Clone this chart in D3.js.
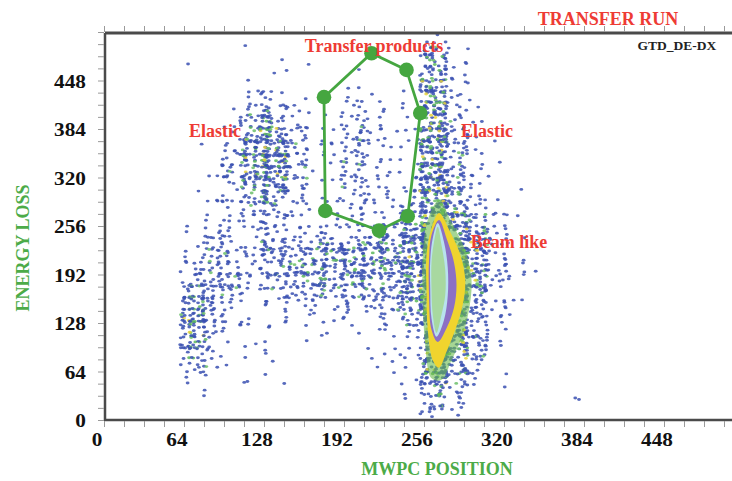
<!DOCTYPE html>
<html>
<head>
<meta charset="utf-8">
<script src="https://cdn.jsdelivr.net/npm/d3@7"></script>
<style>
  body { margin: 0; background: #fff; }
  svg { display: block; }
  text { font-family: "Liberation Serif", "Times New Roman", serif; font-weight: bold; }
</style>
</head>
<body>
<script>
// axis ticks (channels)
const majorTicks = [0, 64, 128, 192, 256, 320, 384, 448];
const minorTicks = d3.range(0, 513, 16);

// 2D histogram, 16x16 channel cells; each row: [lower y edge, count level for x = 48,64,...,336]
const cellSize = 16;
const colStart = 48;
const densityRows = [
  [496, "0000000000000100000"],
  [480, "0000100000000720000"],
  [464, "0100011100000830000"],
  [448, "0000010001000830000"],
  [432, "0000120002100930000"],
  [416, "0000341003211a31000"],
  [400, "0001553103311a41000"],
  [384, "0002774124312a52000"],
  [368, "0003895125312a52100"],
  [352, "0014995225322a52000"],
  [336, "00149a5125322a52100"],
  [320, "0025995125322a63100"],
  [304, "0014884125223a63100"],
  [288, "0123773124323a73210"],
  [272, "0123563123334a84200"],
  [256, "0123442233347aa7310"],
  [240, "0233343344568aa8310"],
  [224, "0344454566779aa9410"],
  [208, "0355466777789aa9420"],
  [192, "0465467777789aa9421"],
  [176, "0565356777779aa9420"],
  [160, "0764334555668aa8310"],
  [144, "0863223333457aa8310"],
  [128, "0952222222236aa7310"],
  [112, "0942121111125aa6210"],
  [96,  "0831110111124aa5200"],
  [80,  "0721110000113a95200"],
  [64,  "0511110000112a83100"],
  [48,  "0311110000011963100"],
  [32,  "0200100000001842100"],
  [16,  "0000000000002531000"],
  [0,   "0000000000001410000"]
];
// dots drawn per cell for each level
const levelDots = [0, 1, 2, 4, 6, 9, 12, 16, 21, 27, 35];
// isolated counts outside the grid
const outliers = [[377, 29], [380, 27]];

// beam-like peak contours (channels), outer to inner
const contourGreen = [[268,290],[278,261],[289,224],[294,185],[292,145],[286,108],[278,79],[270,53],[262,55],[257,99],[255,158],[255,218],[259,264]];
const contourYellow = [[268,273],[277,248],[285,218],[289,185],[287,152],[281,119],[274,90],[268,69],[263,79],[259,119],[258,172],[258,218],[262,253]];
const contourPurple = [[268,264],[274,240],[280,208],[282,178],[280,148],[274,121],[267,103],[262,119],[260,165],[260,211],[262,244]];
const contourCyan = [[267,260],[272,235],[275,201],[275,164],[272,132],[266,110],[262,134],[261,172],[261,211],[263,240]];
const contourCore = [[267,255],[270,231],[273,198],[273,165],[270,139],[266,115],[263,139],[262,172],[262,208],[264,235]];
const contours = [contourGreen, contourYellow, contourPurple, contourCyan, contourCore];
const contourColors = ["#6aba4c", "#f0d42e", "#8c70c4", "#b8e2ee", "#a8d8a0"];

// transfer products gate
const gate = [[176,426],[214,484],[242,462],[253,405],[243,269],[220,250],[177,276]];

const width = 732, height = 481;
const x = d3.scaleLinear().domain([0, 512]).range([104, 744]);
const y = d3.scaleLinear().domain([0, 512]).range([420, 32]);

const svg = d3.select("body").append("svg")
    .attr("width", width)
    .attr("height", height);

// fixed integer hash: where a count sits inside its cell
function hash01(n) {
    n = (n ^ 61) ^ (n >>> 16);
    n = n + (n << 3);
    n = n ^ (n >>> 4);
    n = Math.imul(n, 0x27d4eb2d);
    n = n ^ (n >>> 15);
    return (n >>> 0) / 4294967296;
}

const dots = [];
densityRows.forEach((row, ri) => {
    const y0 = row[0];
    row[1].split("").forEach((ch, ci) => {
        const level = parseInt(ch, 16);
        const n = levelDots[level];
        const x0 = colStart + ci * cellSize;
        for (let k = 0; k < n; k++) {
            let color = "#3a50b1";
            if (level >= 9 && k % 13 == 4) color = "#e6d23c";
            else if (level >= 7 && k % 9 == 2) color = "#5cb85a";
            else if (level >= 3 && k % 17 == 7) color = "#6cc06a";
            const seed = ((ri * 32 + ci) * 64 + k) * 2;
            const u = hash01(seed + 1) * 1.4 - 0.2;
            const v = hash01(seed + 2) * 1.4 - 0.2;
            dots.push({ cx: x0 + u * cellSize, cy: Math.max(1, y0 + v * cellSize), color: color });
        }
    });
});
outliers.forEach(p => dots.push({ cx: p[0], cy: p[1], color: "#3a50b1" }));

const plot = svg.append("g");

plot.selectAll("ellipse.dot")
    .data(dots)
    .enter().append("ellipse")
    .attr("class", "dot")
    .attr("cx", d => x(d.cx))
    .attr("cy", d => y(d.cy))
    .attr("rx", 1.9)
    .attr("ry", 1.45)
    .attr("fill", d => d.color)
    .attr("fill-opacity", 0.85);

const contourLine = d3.line()
    .x(d => x(d[0]))
    .y(d => y(d[1]))
    .curve(d3.curveCatmullRomClosed);

plot.selectAll("path.contour")
    .data(contours)
    .enter().append("path")
    .attr("class", "contour")
    .attr("d", contourLine)
    .attr("fill", (d, i) => contourColors[i])
    .attr("fill-opacity", (d, i) => i == 0 ? 0.6 : 1);

// axes
const axisColor = "#4a4a4a";
svg.append("line").attr("x1", 105).attr("x2", width).attr("y1", 33).attr("y2", 33)
    .attr("stroke", axisColor).attr("stroke-width", 3);
svg.append("line").attr("x1", 105).attr("x2", 105).attr("y1", 33).attr("y2", 421)
    .attr("stroke", axisColor).attr("stroke-width", 2.5);
svg.append("line").attr("x1", 104).attr("x2", width).attr("y1", 420).attr("y2", 420)
    .attr("stroke", axisColor).attr("stroke-width", 2.5);

function styleTicks(g) {
    g.select(".domain").remove();
    g.selectAll(".tick line").attr("stroke", "#9a9a9a").attr("stroke-width", 1);
}

svg.append("g").attr("transform", "translate(0,421)")
    .call(d3.axisBottom(x).tickValues(minorTicks).tickSize(6).tickFormat(""))
    .call(styleTicks);
svg.append("g").attr("transform", "translate(0,32)")
    .call(d3.axisTop(x).tickValues(minorTicks).tickSize(6).tickFormat(""))
    .call(styleTicks);
svg.append("g").attr("transform", "translate(104,0)")
    .call(d3.axisLeft(y).tickValues(minorTicks).tickSize(6).tickFormat(""))
    .call(styleTicks);

const xLabels = svg.append("g").attr("transform", "translate(0,420)")
    .call(d3.axisBottom(x).tickValues(majorTicks).tickSize(0));
xLabels.select(".domain").remove();
xLabels.selectAll("text")
    .attr("y", 26).attr("dy", 0).attr("x", -6.7)
    .attr("transform", "scale(1.12,1)")
    .attr("font-size", 19).attr("fill", "#111")
    .style("font-family", "Liberation Serif").style("font-weight", "bold");

const yLabels = svg.append("g").attr("transform", "translate(105,0)")
    .call(d3.axisLeft(y).tickValues(majorTicks).tickSize(0));
yLabels.select(".domain").remove();
yLabels.selectAll("text")
    .attr("x", -17).attr("dy", "0.35em")
    .attr("transform", "scale(1.12,1)")
    .attr("font-size", 19).attr("fill", "#111")
    .style("font-family", "Liberation Serif").style("font-weight", "bold");

// gate
const gateLine = d3.line().x(d => x(d[0])).y(d => y(d[1])).curve(d3.curveLinearClosed);
svg.append("path")
    .attr("d", gateLine(gate))
    .attr("fill", "none")
    .attr("stroke", "#45a640")
    .attr("stroke-width", 2.8);
svg.selectAll("circle.gate")
    .data(gate)
    .enter().append("circle")
    .attr("class", "gate")
    .attr("cx", d => x(d[0]))
    .attr("cy", d => y(d[1]))
    .attr("r", 7.3)
    .attr("fill", "#45a640");

// titles and notes
const red = "#ee3b34";
const green = "#4cab48";
svg.append("text").attr("x", 608).attr("y", 25).attr("text-anchor", "middle")
    .attr("font-size", 18).attr("fill", red).text("TRANSFER RUN");
svg.append("text").attr("x", 677).attr("y", 50).attr("text-anchor", "middle")
    .attr("font-size", 13.5).attr("fill", "#222").text("GTD_DE-DX");
svg.append("text").attr("x", 374).attr("y", 52).attr("text-anchor", "middle")
    .attr("font-size", 18).attr("fill", red).text("Transfer products");
svg.append("text").attr("x", 215).attr("y", 137).attr("text-anchor", "middle")
    .attr("font-size", 18).attr("fill", red).text("Elastic");
svg.append("text").attr("x", 487).attr("y", 137).attr("text-anchor", "middle")
    .attr("font-size", 18).attr("fill", red).text("Elastic");
svg.append("text").attr("x", 509).attr("y", 248).attr("text-anchor", "middle")
    .attr("font-size", 18).attr("fill", red).text("Beam like");

svg.append("text").attr("x", 437).attr("y", 475).attr("text-anchor", "middle")
    .attr("font-size", 18).attr("fill", green).text("MWPC POSITION");
svg.append("text").attr("transform", "translate(29,248) rotate(-90)").attr("text-anchor", "middle")
    .attr("font-size", 18).attr("fill", green).text("ENERGY LOSS");
</script>
</body>
</html>
